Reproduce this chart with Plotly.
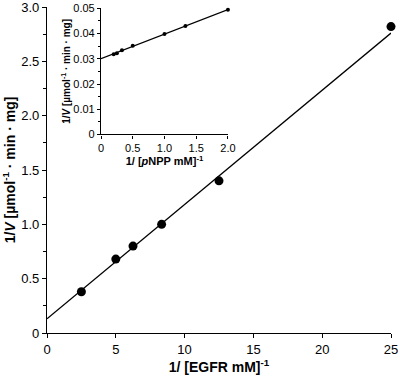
import plotly.graph_objects as go

# Main plot data (EGFR)
egfr_x = [2.5, 5.0, 6.25, 8.33, 12.5, 25.0]
egfr_y = [0.38, 0.68, 0.80, 1.00, 1.40, 2.82]
egfr_fit_x = [0, 25]
egfr_fit_y = [0.13, 2.76]

# Inset data (pNPP)
pnpp_x = [0.2, 0.25, 0.33, 0.5, 1.0, 1.33, 2.0]
pnpp_y = [0.0318, 0.0322, 0.0334, 0.0352, 0.0398, 0.0430, 0.0494]
pnpp_fit_x = [0, 2.0]
pnpp_fit_y = [0.0300, 0.0495]

main_xticks = [0, 5, 10, 15, 20, 25]
main_yticks = [0, 0.5, 1.0, 1.5, 2.0, 2.5, 3.0]
main_yticklabels = ["0", "0.5", "1.0", "1.5", "2.0", "2.5", "3.0"]
inset_xticks = [0, 0.5, 1.0, 1.5, 2.0]
inset_xticklabels = ["0", "0.5", "1.0", "1.5", "2.0"]
inset_yticks = [0, 0.01, 0.02, 0.03, 0.04, 0.05]
inset_yticklabels = ["0", "0.01", "0.02", "0.03", "0.04", "0.05"]

FONT = "Liberation Sans, Arial, sans-serif"

fig = go.Figure()
fig.add_trace(go.Scatter(x=egfr_fit_x, y=egfr_fit_y, mode="lines",
                         line=dict(color="black", width=1.3), showlegend=False,
                         xaxis="x", yaxis="y", cliponaxis=False))
fig.add_trace(go.Scatter(x=egfr_x, y=egfr_y, mode="markers",
                         marker=dict(color="black", size=9), showlegend=False,
                         xaxis="x", yaxis="y", cliponaxis=False))
fig.add_trace(go.Scatter(x=pnpp_fit_x, y=pnpp_fit_y, mode="lines",
                         line=dict(color="black", width=1.2), showlegend=False,
                         xaxis="x2", yaxis="y2", cliponaxis=False))
fig.add_trace(go.Scatter(x=pnpp_x, y=pnpp_y, mode="markers",
                         marker=dict(color="black", size=4), showlegend=False,
                         xaxis="x2", yaxis="y2", cliponaxis=False))

axis_common = dict(showgrid=False, zeroline=False, showline=True,
                   linecolor="black", linewidth=1.2, ticks="outside",
                   tickcolor="black", tickwidth=1, mirror=False,
                   automargin=False, ticklabeloverflow="allow")

fig.update_layout(
    width=400, height=377,
    margin=dict(l=47, r=9, t=7, b=44),
    paper_bgcolor="white", plot_bgcolor="white",
    font=dict(family=FONT, color="black"),
    xaxis=dict(**axis_common, domain=[0, 1], range=[0, 25],
               tickvals=main_xticks, ticklen=4,
               tickfont=dict(size=13),
               title=dict(text="<b>1/ [EGFR mM]<sup>-1</sup></b>",
                          font=dict(size=14), standoff=0)),
    yaxis=dict(**axis_common, domain=[0, 1], range=[0, 3],
               tickvals=main_yticks, ticktext=main_yticklabels, ticklen=4,
               tickfont=dict(size=13),
               minor=dict(dtick=0.25, ticks="outside", ticklen=3, tickcolor="black"),
               title=dict(text="<b>1/<i>V</i> [µmol<sup>-1</sup> · min · mg]</b>",
                          font=dict(size=14), standoff=2)),
    xaxis2=dict(**axis_common, domain=[0.157, 0.526], range=[0, 2.0],
                anchor="y2", tickvals=inset_xticks, ticktext=inset_xticklabels,
                ticklen=3, tickfont=dict(size=11),
                title=dict(text="<b>1/ [<i>p</i>NPP mM]<sup>-1</sup></b>",
                           font=dict(size=11), standoff=0)),
    yaxis2=dict(**axis_common, domain=[0.609, 0.996], range=[0, 0.05],
                anchor="x2", tickvals=inset_yticks, ticktext=inset_yticklabels,
                ticklen=3, tickfont=dict(size=11),
                minor=dict(dtick=0.005, ticks="outside", ticklen=2, tickcolor="black"),
                title=dict(text="<b>1/<i>V</i> [µmol<sup>-1</sup> · min · mg]</b>",
                           font=dict(size=10), standoff=0)),
)

fig.write_html("out.html", config={"displayModeBar": False},
               post_script="document.body.style.margin='0';document.body.style.overflow='hidden';")
